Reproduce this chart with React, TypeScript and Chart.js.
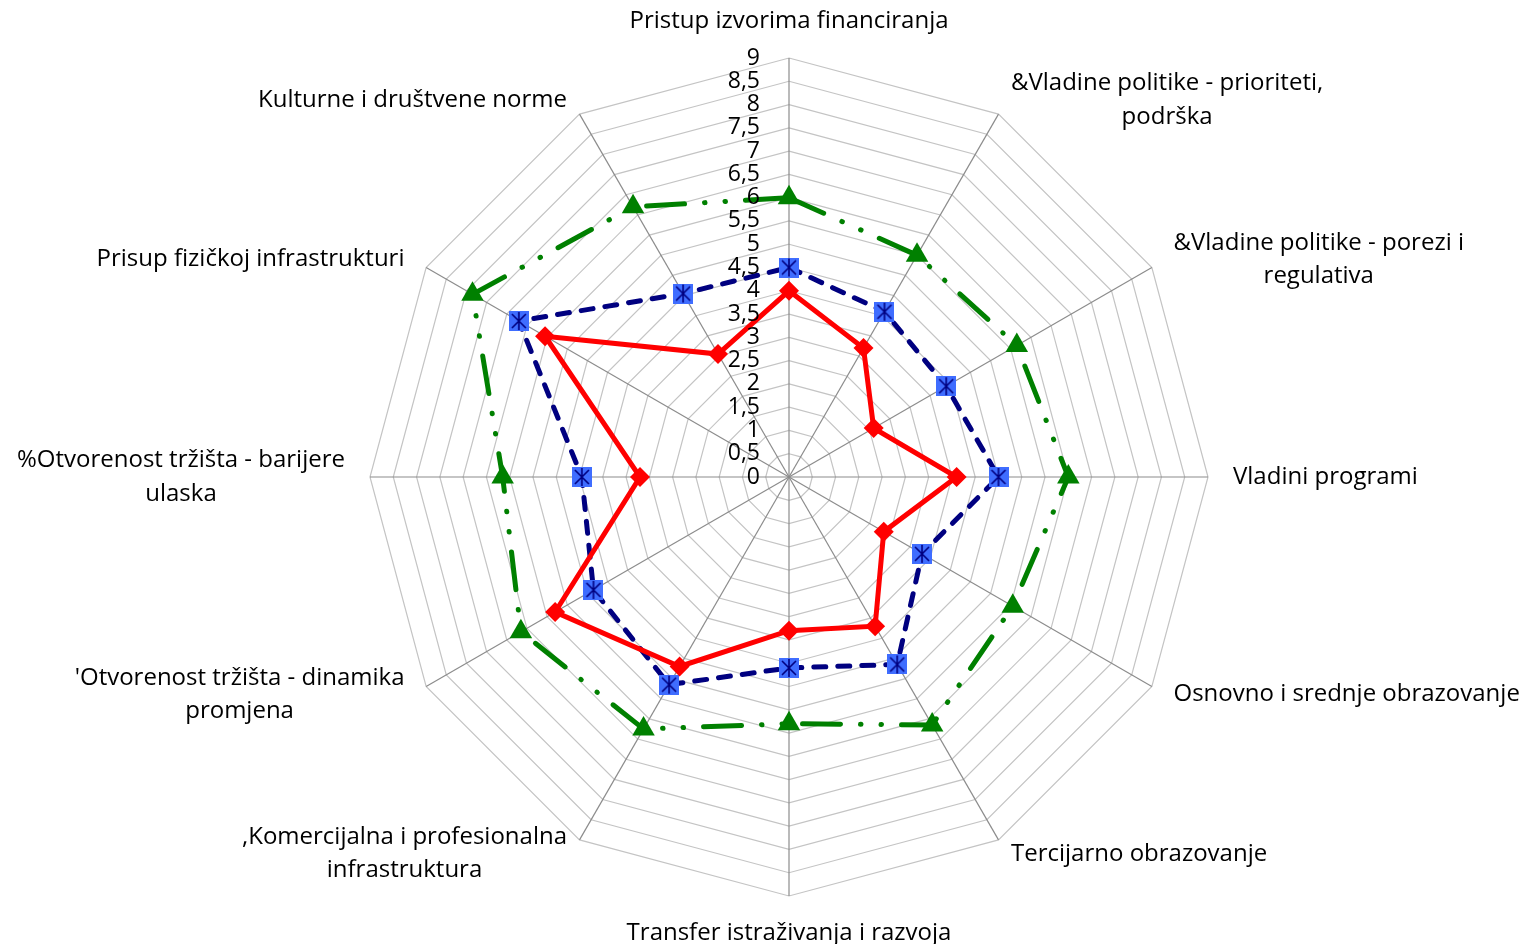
import React, { useEffect, useRef } from "react";
import { Chart, registerables } from "chart.js";
Chart.register(...registerables);

const categories: (string | string[])[] = [
  "Pristup izvorima financiranja",
  ["&Vladine politike - prioriteti,", "podrška"],
  ["&Vladine politike - porezi i", "regulativa"],
  "Vladini programi",
  "Osnovno i srednje obrazovanje",
  "Tercijarno obrazovanje",
  "Transfer istraživanja i razvoja",
  [",Komercijalna i profesionalna", "infrastruktura"],
  ["'Otvorenost tržišta - dinamika", "promjena"],
  ["%Otvorenost tržišta - barijere", "ulaska"],
  "Prisup fizičkoj infrastrukturi",
  "Kulturne i društvene norme",
];

const greenValues = [6.0, 5.5, 5.65, 6.0, 5.55, 6.15, 5.3, 6.25, 6.65, 6.15, 7.85, 6.7];
const blueValues = [4.5, 4.1, 3.9, 4.5, 3.3, 4.65, 4.1, 5.15, 4.85, 4.45, 6.7, 4.55];
const redValues = [4.0, 3.2, 2.1, 3.6, 2.35, 3.7, 3.3, 4.7, 5.8, 3.2, 6.05, 3.05];

const tickValues = [0, 0.5, 1, 1.5, 2, 2.5, 3, 3.5, 4, 4.5, 5, 5.5, 6, 6.5, 7, 7.5, 8, 8.5, 9];
const tickLabels = ["0", "0,5", "1", "1,5", "2", "2,5", "3", "3,5", "4", "4,5", "5", "5,5", "6", "6,5", "7", "7,5", "8", "8,5", "9"];

const FONT = '"Open Sans", "Noto Sans", sans-serif';
const FONT_SIZE = 24;
const LINE_H = FONT_SIZE * 1.4;
const TICK_FONT_SIZE = 23;

function makeSquareStar(): HTMLCanvasElement {
  const s = 20;
  const c = document.createElement("canvas");
  c.width = s;
  c.height = s;
  const g = c.getContext("2d")!;
  g.fillStyle = "#3f6dff";
  g.fillRect(0, 0, s, s);
  g.strokeStyle = "#000080";
  g.lineWidth = 1.6;
  g.beginPath();
  g.moveTo(s / 2, 1);
  g.lineTo(s / 2, s - 1);
  g.moveTo(3, 3);
  g.lineTo(s - 3, s - 3);
  g.moveTo(s - 3, 3);
  g.lineTo(3, s - 3);
  g.stroke();
  return c;
}

const labelPlugin = {
  id: "customLabels",
  afterDraw(chart: any) {
    const scale = chart.scales.r;
    const ctx = chart.ctx;
    const R = scale.drawingArea;
    ctx.save();
    ctx.fillStyle = "#000000";
    ctx.font = `${TICK_FONT_SIZE}px ${FONT}`;
    ctx.textAlign = "right";
    ctx.textBaseline = "middle";
    tickValues.forEach((v, i) => {
      const d = scale.getDistanceFromCenterForValue(v);
      ctx.fillText(tickLabels[i], scale.xCenter - 29, scale.yCenter - d);
    });
    ctx.font = `${FONT_SIZE}px ${FONT}`;
    categories.forEach((cat, i) => {
      const lines = Array.isArray(cat) ? cat : [cat];
      const n = lines.length;
      const ang = (i * 360) / categories.length;
      let x: number;
      let cy: number;
      if (ang === 0 || ang === 180) {
        const p = scale.getPointPosition(i, R + 20);
        x = p.x;
        ctx.textAlign = "center";
        cy = ang === 0 ? p.y - (LINE_H * n) / 2 : p.y + (LINE_H * n) / 2;
      } else {
        const px = scale.getPointPosition(i, R + 25);
        const py = scale.getPointPosition(i, R + 16);
        x = px.x;
        cy = py.y;
        ctx.textAlign = ang < 180 ? "left" : "right";
      }
      // lines centered horizontally on each other within the block
      let blockW = 0;
      lines.forEach((ln) => (blockW = Math.max(blockW, ctx.measureText(ln).width)));
      const align = ctx.textAlign;
      let cx = x;
      if (align === "left") cx = x + blockW / 2;
      else if (align === "right") cx = x - blockW / 2;
      ctx.textAlign = "center";
      ctx.textBaseline = "middle";
      lines.forEach((ln, j) => {
        ctx.fillText(ln, cx, cy + LINE_H * (j - (n - 1) / 2));
      });
    });
    ctx.restore();
  },
};

export default function App() {
  const ref = useRef<HTMLCanvasElement>(null);
  useEffect(() => {
    document.body.style.margin = "0";
    const star = makeSquareStar();
    const chart = new Chart(ref.current!, {
      type: "radar",
      data: {
        labels: categories as any,
        datasets: [
          {
            label: "Red",
            data: redValues,
            borderColor: "#ff0000",
            backgroundColor: "#ff0000",
            borderWidth: 5,
            pointStyle: "rectRot",
            pointRadius: 10,
            pointBorderWidth: 0,
            pointBackgroundColor: "#ff0000",
            fill: false,
            tension: 0,
          },
          {
            label: "Blue",
            data: blueValues,
            borderColor: "#000080",
            backgroundColor: "#3f6dff",
            borderWidth: 5,
            borderDash: [12, 12],
            borderCapStyle: "round",
            pointStyle: star as any,
            pointRadius: 10,
            fill: false,
            tension: 0,
          },
          {
            label: "Green",
            data: greenValues,
            borderColor: "#008000",
            backgroundColor: "#008000",
            borderWidth: 5,
            borderDash: [38, 20, 0.5, 20, 0.5, 20],
            borderCapStyle: "round",
            pointStyle: "triangle",
            pointRadius: 13,
            pointBorderWidth: 0,
            pointBackgroundColor: "#008000",
            fill: false,
            tension: 0,
          },
        ],
      },
      options: {
        animation: false,
        responsive: false,
        layout: { padding: { left: 370, right: 327, top: 58, bottom: 48 } },
        plugins: { legend: { display: false }, tooltip: { enabled: false } },
        scales: {
          r: {
            min: 0,
            max: 9,
            startAngle: 0,
            ticks: { stepSize: 0.5, display: false },
            grid: { color: "#c4c4c4", lineWidth: 1.2 },
            angleLines: { color: "#8c8c8c", lineWidth: 1.2 },
            pointLabels: { display: false },
          },
        },
      },
      plugins: [labelPlugin],
    });
    return () => chart.destroy();
  }, []);
  return (
    <div style={{ width: 1535, height: 944 }}>
      <canvas ref={ref} width={1535} height={944} />
    </div>
  );
}
